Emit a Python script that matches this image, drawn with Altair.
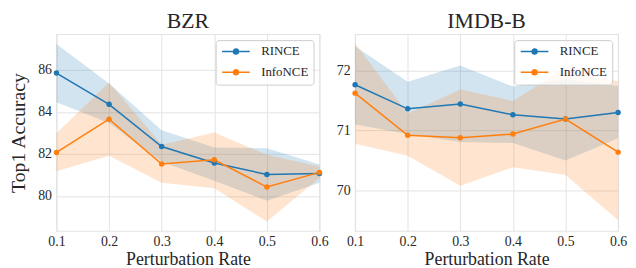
import altair as alt
import pandas as pd

rates = [0.1, 0.2, 0.3, 0.4, 0.5, 0.6]
methods = ["RINCE", "InfoNCE"]
colors = ["#1f77b4", "#ff7f0e"]

# BZR
bzr_rince_mean = [85.85, 84.36, 82.35, 81.57, 81.02, 81.07]
bzr_rince_lo = [84.46, 83.47, 81.62, 80.72, 79.77, 80.63]
bzr_rince_hi = [87.23, 85.35, 83.13, 82.30, 82.27, 81.50]
bzr_info_mean = [82.07, 83.65, 81.52, 81.72, 80.42, 81.12]
bzr_info_lo = [81.17, 81.91, 80.63, 80.36, 78.78, 80.85]
bzr_info_hi = [82.98, 85.40, 82.43, 83.02, 81.96, 81.40]

# IMDB-B
imdb_rince_mean = [71.76, 71.36, 71.44, 71.26, 71.19, 71.30]
imdb_rince_lo = [71.10, 70.94, 70.81, 70.79, 70.50, 70.87]
imdb_rince_hi = [72.40, 71.81, 72.08, 71.73, 71.85, 71.74]
imdb_info_mean = [71.62, 70.92, 70.88, 70.94, 71.19, 70.64]
imdb_info_lo = [70.78, 70.58, 70.08, 70.39, 70.26, 69.51]
imdb_info_hi = [72.45, 71.28, 71.68, 71.49, 72.04, 71.82]

FONT = "Liberation Serif"
TXT = "#262626"
GRID = "#e3e3e3"

LEG_PATH = ("M-1,0L4.6,0"
            "M1.3,0A0.5,0.5,0,1,0,2.3,0A0.5,0.5,0,1,0,1.3,0"
            "M1.5,0A0.3,0.3,0,1,0,2.1,0A0.3,0.3,0,1,0,1.5,0"
            "M1.7,0A0.1,0.1,0,1,0,1.9,0A0.1,0.1,0,1,0,1.7,0")


def make_df(r_mean, r_lo, r_hi, i_mean, i_lo, i_hi):
    rows = []
    for m, mean, lo, hi in [("RINCE", r_mean, r_lo, r_hi), ("InfoNCE", i_mean, i_lo, i_hi)]:
        for k, x in enumerate(rates):
            rows.append({"rate": x, "method": m, "mean": mean[k], "lo": lo[k], "hi": hi[k],
                         "order": methods.index(m)})
    return pd.DataFrame(rows)


def panel(df, title, ydomain, yticks, ytitle):
    base = alt.Chart(df)
    xenc = alt.X("rate:Q",
                 scale=alt.Scale(domain=[0.1, 0.6], nice=False, zero=False),
                 axis=alt.Axis(values=rates, format=".1f", title="Perturbation Rate",
                               labelFont=FONT, labelFontSize=14, titleFont=FONT,
                               titleFontSize=18, labelPadding=4, titlePadding=2,
                               labelBound=False, labelOverlap=False, labelFlush=False))
    yaxis = alt.Axis(values=yticks, format="d", title=ytitle, labelFont=FONT,
                     labelFontSize=14, titleFont=FONT, titleFontSize=20,
                     labelPadding=5, titlePadding=9)
    yscale = alt.Scale(domain=ydomain, nice=False, zero=False)
    # fill scale: data-driven domain (alphabetical: InfoNCE, RINCE)
    fill = alt.Fill("method:N", scale=alt.Scale(range=[colors[1], colors[0]]), legend=None)

    band = base.mark_area(opacity=0.2).encode(
        x=xenc,
        y=alt.Y("lo:Q", scale=yscale, axis=yaxis),
        y2="hi:Q",
        fill=fill,
        order="order:Q",
    )
    line = base.mark_line(strokeWidth=1.5).encode(
        x=xenc,
        y=alt.Y("mean:Q", scale=yscale, axis=yaxis),
        color=alt.Color("method:N", scale=alt.Scale(domain=methods, range=colors),
                        legend=alt.Legend(title=None, orient="top-right", offset=6,
                                          padding=5, fillColor="rgba(255,255,255,0.8)",
                                          strokeColor="#cccccc", cornerRadius=3,
                                          symbolType=LEG_PATH, symbolSize=100,
                                          symbolStrokeWidth=1.5, labelFont=FONT,
                                          labelFontSize=13, labelColor=TXT,
                                          labelOffset=28, rowPadding=7)),
    )
    pts = base.mark_circle(size=30, opacity=1).encode(
        x=xenc,
        y=alt.Y("mean:Q", scale=yscale, axis=yaxis),
        fill=fill,
    )
    return alt.layer(band, line, pts).properties(
        width=266, height=199,
        title=alt.TitleParams(title, font=FONT, fontSize=22, fontWeight="normal",
                              color=TXT, offset=1),
    )


left = panel(make_df(bzr_rince_mean, bzr_rince_lo, bzr_rince_hi,
                     bzr_info_mean, bzr_info_lo, bzr_info_hi),
             "BZR", [78.33, 87.7], [80, 82, 84, 86], "Top1 Accuracy")
right = panel(make_df(imdb_rince_mean, imdb_rince_lo, imdb_rince_hi,
                      imdb_info_mean, imdb_info_lo, imdb_info_hi),
              "IMDB-B", [69.33, 72.6], [70, 71, 72], None)

chart = alt.hconcat(left, right, spacing=36, bounds="flush").resolve_scale(
    y="independent", color="independent", fill="independent"
).resolve_legend(color="independent").properties(
    padding={"left": 0, "top": 0, "right": 0, "bottom": 0},
    background="white",
).configure_axis(
    labelColor=TXT, titleColor=TXT, titleFontWeight="normal",
    gridColor=GRID, gridWidth=1, domain=False, ticks=False,
).configure_view(stroke=GRID, strokeWidth=1.2)

chart.save("out.html", embed_options={"renderer": "svg", "actions": False})
